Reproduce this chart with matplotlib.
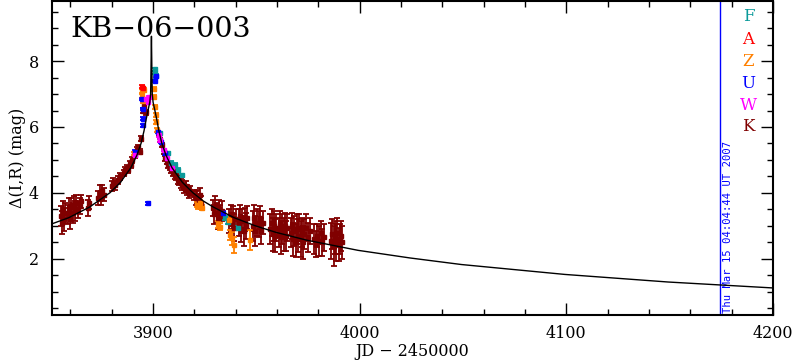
import matplotlib
matplotlib.use("Agg")
import matplotlib.pyplot as plt
from matplotlib.ticker import MultipleLocator

# ---------------- data ----------------
title = "KB\u221206\u2212003"
xlabel = "JD \u2212 2450000"
ylabel = "\u0394(I,R) (mag)"
date_stamp = "Thu Mar 15 04:04:44 UT 2007"
date_line_jd = 4174.5

obs_names = ["F", "A", "Z", "U", "W", "K"]
obs_colors = ["#0a9a9a", "#ff0000", "#ff8000", "#0000ff", "#ff00ff", "#800000"]

# K (dark red)
K_jd = [3855.5, 3856.0, 3856.6, 3857.1, 3857.7, 3859.0, 3859.5, 3860.0, 3860.6, 3861.2,
        3861.8, 3862.4, 3863.0, 3863.6, 3864.6, 3865.3, 3868.6, 3869.3, 3873.6, 3874.2,
        3874.9, 3875.6, 3876.2, 3880.2, 3880.8, 3881.5, 3883.3, 3884.0, 3885.8, 3886.5,
        3887.3, 3888.0, 3888.7, 3889.4, 3890.0, 3891.5, 3892.2, 3893.0, 3893.6, 3894.3,
        3895.2, 3895.8, 3896.5,
        3902.8, 3903.6, 3904.5, 3905.3, 3906.0, 3906.8, 3907.5, 3908.3, 3909.0, 3909.8,
        3910.5, 3911.3, 3912.0, 3912.8, 3913.5, 3914.3, 3915.0, 3915.8, 3916.5, 3917.3,
        3918.0, 3920.0, 3920.7, 3921.4, 3922.1, 3922.8, 3923.5,
        3929.0, 3929.6, 3930.2, 3930.8, 3931.4, 3932.0, 3932.6, 3933.2,
        3937.0, 3937.6, 3938.2, 3938.8, 3939.4, 3940.0, 3941.5, 3942.1, 3942.7, 3943.3,
        3943.9, 3944.5, 3945.1, 3945.7, 3948.3, 3948.9, 3949.5, 3950.2, 3951.3, 3951.9,
        3952.5, 3953.2, 3956.8, 3957.4, 3958.0, 3958.6, 3959.2, 3959.8, 3960.8, 3961.4,
        3962.0, 3962.6, 3963.2, 3963.8, 3964.4, 3965.0, 3966.7, 3967.3, 3967.9, 3968.5,
        3969.1, 3969.7, 3970.3, 3970.9, 3971.5, 3972.1, 3972.7, 3973.3, 3974.0, 3975.0,
        3976.0, 3978.0, 3978.8, 3979.6, 3980.4, 3981.2, 3982.0, 3982.8, 3986.2, 3986.8,
        3987.4, 3988.0, 3988.6, 3989.2, 3989.8, 3990.4, 3991.0, 3991.6]
K_mag = [3.30, 3.10, 3.45, 3.20, 3.40, 3.35, 3.55, 3.20, 3.60, 3.40,
         3.65, 3.45, 3.70, 3.50, 3.60, 3.75, 3.55, 3.70, 3.85, 4.00,
         3.85, 4.05, 3.95, 4.20, 4.30, 4.25, 4.40, 4.50, 4.60, 4.70,
         4.75, 4.70, 4.88, 4.85, 5.00, 5.15, 5.30, 5.38, 5.25, 5.65,
         6.50, 6.65, 6.45,
         5.80, 5.60, 5.45, 5.25, 5.05, 4.95, 4.85, 4.80, 4.70, 4.60,
         4.55, 4.50, 4.40, 4.35, 4.30, 4.25, 4.15, 4.20, 4.10, 4.00,
         4.05, 3.95, 3.85, 3.90, 3.75, 3.95, 3.70,
         3.55, 3.35, 3.60, 3.40, 3.25, 3.50, 3.30, 3.45,
         3.15, 3.35, 3.05, 3.25, 2.95, 3.20, 3.10, 3.30, 2.90, 3.15,
         2.85, 3.20, 3.00, 3.25, 3.00, 3.25, 2.85, 3.10, 3.05, 3.25,
         2.85, 3.10, 2.90, 3.10, 2.75, 3.00, 2.70, 2.95, 2.80, 3.05,
         2.65, 2.90, 2.75, 3.00, 2.70, 2.95, 2.80, 3.00, 2.60, 2.85,
         2.55, 2.90, 2.70, 2.95, 2.60, 2.80, 2.50, 2.75, 2.95, 2.65,
         2.85, 2.60, 2.45, 2.70, 2.55, 2.80, 2.50, 2.65, 2.55, 2.75,
         2.40, 2.65, 2.50, 2.80, 2.45, 2.60, 2.70, 2.50]
K_err = [0.30, 0.35, 0.30, 0.35, 0.30, 0.30, 0.30, 0.30, 0.25, 0.30,
         0.25, 0.30, 0.25, 0.25, 0.25, 0.20, 0.25, 0.20, 0.20, 0.25,
         0.20, 0.20, 0.20, 0.15, 0.15, 0.15, 0.12, 0.12, 0.10, 0.10,
         0.10, 0.10, 0.10, 0.10, 0.10, 0.08, 0.08, 0.08, 0.08, 0.08,
         0.08, 0.08, 0.08,
         0.06, 0.06, 0.06, 0.08, 0.08, 0.08, 0.10, 0.10, 0.10, 0.10,
         0.12, 0.12, 0.12, 0.12, 0.15, 0.15, 0.15, 0.15, 0.15, 0.15,
         0.15, 0.15, 0.20, 0.20, 0.20, 0.20, 0.20,
         0.25, 0.30, 0.30, 0.30, 0.35, 0.30, 0.35, 0.30,
         0.35, 0.30, 0.35, 0.35, 0.40, 0.30, 0.40, 0.35, 0.40, 0.35,
         0.45, 0.35, 0.40, 0.35, 0.45, 0.40, 0.45, 0.40, 0.40, 0.35,
         0.40, 0.35, 0.45, 0.40, 0.50, 0.45, 0.50, 0.40, 0.45, 0.40,
         0.50, 0.45, 0.50, 0.40, 0.45, 0.40, 0.45, 0.40, 0.50, 0.45,
         0.50, 0.45, 0.50, 0.40, 0.55, 0.45, 0.50, 0.45, 0.40, 0.45,
         0.40, 0.45, 0.40, 0.35, 0.45, 0.35, 0.40, 0.40, 0.55, 0.45,
         0.60, 0.50, 0.55, 0.45, 0.50, 0.45, 0.45, 0.50]

# F (teal)
F_jd = [3900.8, 3901.1, 3901.4, 3903.5, 3907.5, 3909.0, 3910.8, 3912.3, 3914.0, 3935.0, 3936.4, 3941.3]
F_mag = [7.75, 7.65, 7.55, 5.81, 5.20, 4.92, 4.85, 4.70, 4.54, 3.24, 3.12, 2.94]
F_err = [0.05, 0.05, 0.05, 0.05, 0.05, 0.05, 0.05, 0.05, 0.05, 0.06, 0.06, 0.06]

# A (red)
A_jd = [3894.6, 3895.2]
A_mag = [7.22, 7.18]
A_err = [0.04, 0.04]

# Z (orange)
Z_jd = [3891.0, 3894.6, 3894.9, 3895.3, 3895.7, 3900.4, 3900.7, 3901.0, 3901.3, 3901.6,
        3902.0, 3921.2, 3922.0, 3923.0, 3923.6, 3931.5, 3932.5, 3936.6, 3937.4, 3938.2,
        3939.0, 3947.0]
Z_mag = [5.20, 7.10, 6.95, 6.80, 7.12, 7.15, 6.90, 6.60, 6.35, 6.15,
         5.90, 3.65, 3.60, 3.70, 3.55, 3.05, 2.98, 3.18, 2.73, 2.63,
         2.42, 2.58]
Z_err = [0.05, 0.06, 0.06, 0.06, 0.06, 0.06, 0.06, 0.06, 0.06, 0.06,
         0.06, 0.08, 0.08, 0.08, 0.08, 0.10, 0.10, 0.10, 0.15, 0.20,
         0.25, 0.30]

# U (blue)
U_jd = [3891.5, 3894.8, 3895.0, 3895.1, 3895.3, 3897.8, 3901.0, 3901.3, 3902.5, 3904.0, 3906.0, 3934.0]
U_mag = [5.25, 6.85, 6.55, 6.25, 6.05, 3.69, 7.40, 7.55, 5.85, 5.55, 5.20, 3.39]
U_err = [0.04, 0.04, 0.04, 0.04, 0.04, 0.05, 0.04, 0.04, 0.04, 0.04, 0.04, 0.05]

# W (magenta)
W_jd = [3891.2, 3896.8, 3897.5, 3898.0, 3902.8, 3903.6, 3905.5, 3907.0, 3909.2]
W_mag = [5.15, 6.85, 6.75, 6.90, 5.75, 5.60, 5.30, 5.05, 4.75]
W_err = [0.04, 0.04, 0.04, 0.04, 0.04, 0.04, 0.04, 0.04, 0.04]

# model light curve
model_jd = [3851.0, 3859.3, 3869.3, 3879.3, 3884.3, 3889.3, 3892.3, 3894.3, 3895.7,
            3896.8, 3897.8, 3898.5, 3898.9, 3899.1, 3899.3, 3899.5, 3899.7, 3900.1,
            3900.8, 3901.8, 3902.9, 3904.3, 3906.3, 3909.3, 3914.3, 3919.3, 3924.3,
            3929.3, 3939.3, 3949.3, 3959.3, 3974.3, 3999.3, 4024.3, 4049.3, 4099.3,
            4149.3, 4200.0]
model_mag = [3.06, 3.25, 3.57, 4.01, 4.32, 4.76, 5.15, 5.51, 5.88,
             6.25, 6.55, 6.75, 7.00, 7.80, 8.75, 7.80, 7.00, 6.75,
             6.55, 6.25, 5.88, 5.51, 5.15, 4.76, 4.32, 4.01, 3.76,
             3.57, 3.25, 3.01, 2.81, 2.57, 2.26, 2.03, 1.83, 1.53,
             1.30, 1.12]

x_range = (3851, 4200)
y_range = (0.3, 9.82)

# ---------------- figure ----------------
W_PX, H_PX, DPI = 794, 362, 100
fig = plt.figure(figsize=(W_PX / DPI, H_PX / DPI), dpi=DPI)
L, R, B, T = 51.6, 773.0, 315.0, 1.0
ax = fig.add_axes([L / W_PX, 1 - B / H_PX, (R - L) / W_PX, (B - T) / H_PX])

serif = "DejaVu Serif"

series = [
    (K_jd, K_mag, K_err, obs_colors[5]),
    (F_jd, F_mag, F_err, obs_colors[0]),
    (Z_jd, Z_mag, Z_err, obs_colors[2]),
    (A_jd, A_mag, A_err, obs_colors[1]),
    (U_jd, U_mag, U_err, obs_colors[3]),
    (W_jd, W_mag, W_err, obs_colors[4]),
]
for jd, mag, err, col in series:
    ax.errorbar(jd, mag, yerr=err, fmt="s", ms=3.2, color=col, ecolor=col,
                elinewidth=1.3, capsize=2.2, capthick=1.3, mec=col, mfc=col)

ax.plot(model_jd, model_mag, color="black", lw=1.0, zorder=5)
ax.axvline(date_line_jd, color="#0000ff", lw=1.0)

ax.set_xlim(*x_range)
ax.set_ylim(*y_range)

ax.xaxis.set_major_locator(MultipleLocator(100))
ax.xaxis.set_minor_locator(MultipleLocator(20))
ax.yaxis.set_major_locator(MultipleLocator(2))
ax.yaxis.set_minor_locator(MultipleLocator(0.5))
ax.tick_params(which="both", direction="in", top=True, right=True, width=1.0, colors="black")
ax.tick_params(which="major", length=8.6)
ax.tick_params(which="minor", length=4.3)
ax.tick_params(axis="x", which="major", pad=7)
ax.tick_params(axis="y", which="major", pad=9)
for lab in ax.get_xticklabels() + ax.get_yticklabels():
    lab.set_fontfamily(serif)
    lab.set_fontsize(11.5)
for s in ax.spines.values():
    s.set_linewidth(1.5)

ax.set_xlabel(xlabel, family=serif, fontsize=11.5, labelpad=1)
ax.set_ylabel(ylabel, family=serif, fontsize=11.5, labelpad=2)

ax.text(0.0255, 0.885, title, transform=ax.transAxes, family=serif,
        fontsize=20.5, va="baseline", ha="left")

legend_y = [0.950, 0.876, 0.807, 0.738, 0.668, 0.600]
for name, col, yy in zip(obs_names, obs_colors, legend_y):
    ax.text(0.966, yy, name, transform=ax.transAxes, color=col, family=serif,
            fontsize=12, ha="center", va="center")

ax.text(4178, 0.36, date_stamp, rotation=90, color="#0000ff",
        family="DejaVu Sans Mono", fontsize=7.6, ha="center", va="bottom")

fig.savefig("out.png", dpi=DPI)
